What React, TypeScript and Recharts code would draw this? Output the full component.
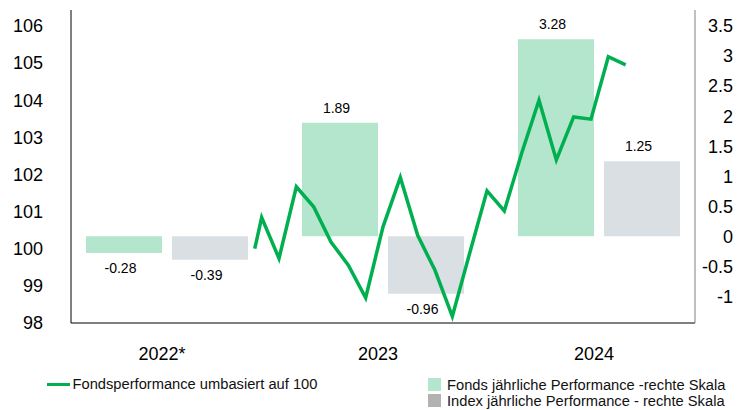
import React from 'react';
import {
  ComposedChart,
  Bar,
  Line,
  XAxis,
  YAxis,
  Legend,
  LabelList,
} from 'recharts';

// ---- data ----
const years = ['2022*', '2023', '2024'];
const fondsAnnual = [-0.28, 1.89, 3.28];
const indexAnnual = [-0.39, -0.96, 1.25];

// month offsets (0 = first month-end after launch) and rebased fund performance
const lineMonths = [-0.4, 0, 1, 2, 3, 4, 5, 6, 7, 8, 9, 10, 11, 12, 13, 14, 15, 16, 17, 18, 19, 20, 21];
const lineValues = [
  100.0, 100.84, 99.74, 101.67, 101.13, 100.18, 99.56, 98.68, 100.59, 101.92, 100.36, 99.42,
  98.18, 99.88, 101.56, 101.02, 102.57, 104.0, 102.39, 103.55, 103.49, 105.17, 104.95,
];

const leftTicks = [98, 99, 100, 101, 102, 103, 104, 105, 106];
const rightTicks = [-1, -0.5, 0, 0.5, 1, 1.5, 2, 2.5, 3, 3.5];

const barData = years.map((y, i) => ({ year: y, fonds: fondsAnnual[i], index: indexAnnual[i] }));
const lineData = lineMonths.map((m, i) => ({ m, v: lineValues[i] }));

const FONT = '"Liberation Sans", Arial, Helvetica, sans-serif';
const GREEN = '#00b050';
const FONDS_COLOR = '#b3e6cc';
const INDEX_COLOR = '#dadfe3';

const renderBarLabel = (props: any) => {
  const { x, y, width, height, value } = props;
  const top = Math.min(y, y + height);
  const bottom = Math.max(y, y + height);
  const cy = value >= 0 ? top - 15 : bottom + 15;
  return (
    <text
      x={x + width / 2 - 3.5}
      y={cy}
      textAnchor="middle"
      dominantBaseline="central"
      fontSize={14}
      fontFamily={FONT}
      fill="#000"
    >
      {String(value)}
    </text>
  );
};

const renderLegend = () => {
  const textStyle: React.CSSProperties = {
    position: 'absolute',
    fontSize: 14.7,
    lineHeight: '16px',
    fontFamily: FONT,
    color: '#111',
    whiteSpace: 'nowrap',
  };
  return (
    <div style={{ position: 'relative', width: 749, height: 40 }}>
      <div style={{ position: 'absolute', left: 47, top: 12.5, width: 23, height: 3, background: GREEN }} />
      <div style={{ ...textStyle, left: 72.5, top: 6 }}>Fondsperformance umbasiert auf 100</div>
      <div style={{ position: 'absolute', left: 427.5, top: 8.3, width: 13, height: 12.5, background: FONDS_COLOR }} />
      <div style={{ ...textStyle, left: 447, top: 6.5 }}>Fonds jährliche Performance -rechte Skala</div>
      <div style={{ position: 'absolute', left: 427.5, top: 24.2, width: 13, height: 12.5, background: '#b2b2b2' }} />
      <div style={{ ...textStyle, left: 447, top: 22.5 }}>Index jährliche Performance - rechte Skala</div>
    </div>
  );
};

export default function App() {
  return (
    <div style={{ position: 'absolute', left: 0, top: 0, width: 749, height: 410, background: '#fff' }}>
      <ComposedChart
        width={749}
        height={410}
        data={barData}
        margin={{ top: 10, right: 0, bottom: 0, left: 0 }}
        barGap={10}
        style={{ fontFamily: FONT }}
      >
        <XAxis
          xAxisId="bars"
          dataKey="year"
          type="category"
          height={47}
          padding={{ left: -12, right: -12 }}
          axisLine={{ stroke: '#000', strokeWidth: 1 }}
          tickLine={false}
          tickSize={0}
          tickMargin={24}
          tick={{ fontSize: 18, fill: '#000', fontFamily: FONT, dx: -5 }}
        />
        <XAxis
          xAxisId="line"
          dataKey="m"
          type="number"
          domain={[-11, 25]}
          allowDataOverflow
          hide
        />
        <YAxis
          yAxisId="left"
          orientation="left"
          width={71}
          domain={[98, 106.43]}
          ticks={leftTicks}
          allowDataOverflow
          interval={0}
          axisLine={{ stroke: '#000', strokeWidth: 1 }}
          tickLine={false}
          tickSize={0}
          tickMargin={28}
          tick={{ fontSize: 18, fill: '#000', fontFamily: FONT }}
        />
        <YAxis
          yAxisId="right"
          orientation="right"
          width={54}
          domain={[-1.445, 3.767]}
          ticks={rightTicks}
          allowDataOverflow
          interval={0}
          axisLine={{ stroke: '#808080', strokeWidth: 1 }}
          tickLine={false}
          tickSize={0}
          tickMargin={38}
          tick={{ fontSize: 18, fill: '#000', fontFamily: FONT, textAnchor: 'end' }}
        />
        <Bar
          xAxisId="bars"
          yAxisId="right"
          dataKey="fonds"
          fill={FONDS_COLOR}
          barSize={76}
          isAnimationActive={false}
        >
          <LabelList dataKey="fonds" content={renderBarLabel} />
        </Bar>
        <Bar
          xAxisId="bars"
          yAxisId="right"
          dataKey="index"
          fill={INDEX_COLOR}
          barSize={76}
          isAnimationActive={false}
        >
          <LabelList dataKey="index" content={renderBarLabel} />
        </Bar>
        <Line
          xAxisId="line"
          yAxisId="left"
          data={lineData}
          dataKey="v"
          type="linear"
          stroke={GREEN}
          strokeWidth={3.5}
          dot={false}
          activeDot={false}
          isAnimationActive={false}
        />
        <Legend
          verticalAlign="bottom"
          height={40}
          content={renderLegend}
          wrapperStyle={{ left: 0, bottom: 0, width: 749, height: 40 }}
        />
      </ComposedChart>
    </div>
  );
}
